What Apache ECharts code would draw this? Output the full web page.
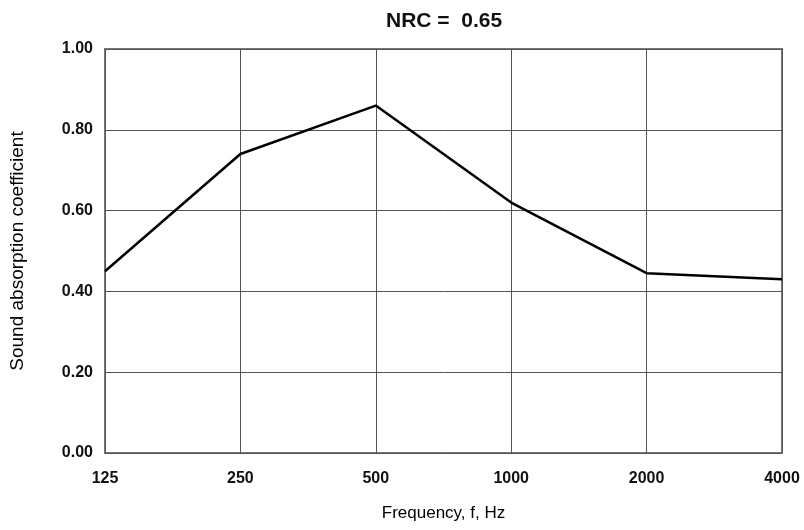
<!DOCTYPE html>
<html>
<head>
<meta charset="utf-8">
<script src="https://cdn.jsdelivr.net/npm/echarts@6/dist/echarts.min.js"></script>
<style>html,body{margin:0;padding:0;background:#fff;}#c{width:804px;height:530px;}</style>
</head>
<body>
<div id="c"></div>
<script>
const titleText = 'NRC =  0.65';
const frequencies = ['125', '250', '500', '1000', '2000', '4000'];
const absorption = [0.45, 0.74, 0.86, 0.62, 0.445, 0.43];
const yMin = 0, yMax = 1, yStep = 0.2;
const xName = 'Frequency, f, Hz';
const yName = 'Sound absorption coefficient';

const chart = echarts.init(document.getElementById('c'), null, {renderer: 'canvas'});
const font = '"Liberation Sans", Arial, sans-serif';
chart.setOption({
  animation: false,
  backgroundColor: '#fff',
  title: {
    text: titleText,
    left: 381, top: 6,
    textStyle: {fontFamily: font, fontSize: 21, fontWeight: 'bold', color: '#111'}
  },
  grid: {
    left: 104, right: 22, top: 49, bottom: 77,
    show: true, borderColor: '#777', borderWidth: 2, backgroundColor: 'transparent'
  },
  xAxis: {
    type: 'category',
    data: frequencies,
    boundaryGap: false,
    name: xName,
    nameLocation: 'middle',
    nameGap: 52,
    nameTextStyle: {fontFamily: font, fontSize: 17, color: '#000'},
    axisLine: {show: false},
    axisTick: {show: false},
    axisLabel: {fontFamily: font, fontSize: 16, fontWeight: 'bold', color: '#111', margin: 18},
    splitLine: {show: true, lineStyle: {color: '#555', width: 1}}
  },
  yAxis: {
    type: 'value',
    min: yMin, max: yMax, interval: yStep,
    name: yName,
    nameLocation: 'middle',
    nameGap: 78,
    nameRotate: 90,
    nameTextStyle: {fontFamily: font, fontSize: 19, color: '#000'},
    axisLine: {show: false},
    axisTick: {show: false},
    axisLabel: {fontFamily: font, fontSize: 16, fontWeight: 'bold', color: '#111', margin: 12,
      formatter: v => v.toFixed(2)},
    splitLine: {show: true, lineStyle: {color: '#555', width: 1}}
  },
  series: [{
    type: 'line',
    data: absorption,
    symbol: 'none',
    lineStyle: {color: '#000', width: 2.5}
  }]
});
</script>
</body>
</html>
